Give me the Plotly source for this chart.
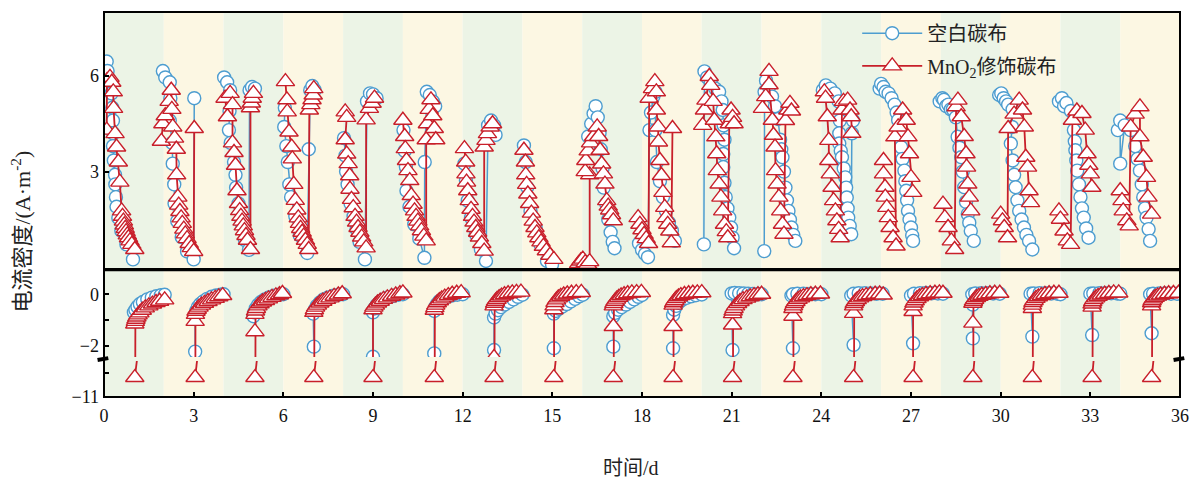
import plotly.graph_objects as go

# ---------------- data (time in days, current density in A/m2) ----------------
# Upper panel (discharge), None separates cycles
blue_top = [
    (0.09,6.45),(0.12,6.15),(0.2,5.85),(0.25,5.45),(0.28,5.0),(0.3,4.6),(0.31,4.2),(0.3,3.8),(0.33,3.35),(0.37,2.9),
    (0.38,2.6),(0.4,2.2),(0.42,1.9),(0.48,1.55),(0.58,1.15),(0.75,0.72),(0.97,0.25), None,
    (1.97,6.15),(2.05,5.95),(2.2,5.8),(2.22,5.3),(2.2,4.6),(2.28,3.9),(2.3,3.25),(2.35,2.6),(2.36,2.0),(2.45,1.45),
    (2.6,0.95),(2.78,0.5),(3.0,0.25),(3.02,5.3), None,
    (4.02,5.95),(4.12,5.8),(4.22,5.55),(4.2,4.9),(4.18,4.3),(4.24,3.9),(4.35,3.3),(4.4,2.9),(4.42,2.5),(4.5,2.0),
    (4.6,1.4),(4.72,0.85),(4.85,0.55),(4.87,5.55),(4.95,5.65),(5.05,5.6), None,
    (6.05,5.0),(6.03,4.4),(6.1,3.8),(6.15,3.3),(6.2,2.6),(6.26,2.2),(6.4,1.6),(6.55,1.0),(6.8,0.45),(6.85,3.7),
    (6.9,5.55),(6.97,5.68),(7.05,5.55), None,
    (8.03,4.05),(8.08,3.5),(8.1,3.0),(8.15,2.6),(8.25,2.0),(8.35,1.6),(8.45,1.2),(8.55,0.8),(8.73,0.25),(8.8,5.2),
    (8.9,5.45),(9.0,5.42),(9.12,5.3), None,
    (10.02,4.3),(10.06,3.65),(10.1,3.15),(10.12,2.4),(10.22,1.9),(10.38,1.35),(10.55,0.9),(10.72,0.3),(10.73,3.3),
    (10.8,5.5),(10.9,5.4),(11.0,5.2),(11.08,5.05), None,
    (12.06,3.25),(12.11,2.72),(12.17,2.09),(12.28,1.56),(12.44,1.04),(12.61,0.56),(12.78,0.2),(12.85,4.45),
    (12.95,4.6),(13.05,4.45),(13.1,4.15), None,
    (14.05,3.82),(14.11,3.3),(14.16,2.51),(14.27,1.77),(14.44,1.25),(14.6,0.72),(14.82,0.2),(14.99,0.09), None,
    (16.2,4.1),(16.3,4.5),(16.38,4.82),(16.45,5.05),(16.52,4.7),(16.58,4.2),(16.62,3.7),(16.68,3.1),(16.72,2.5),
    (16.8,2.0),(16.87,1.5),(16.95,1.1),(17.02,0.8),(17.08,0.6), None,
    (17.9,0.75),(18.0,0.55),(18.1,0.42),(18.2,0.32),(18.25,4.3),(18.3,4.85),(18.38,5.35),(18.45,5.5),(18.45,4.3),
    (18.5,3.3),(18.6,2.7),(18.7,2.2),(18.8,1.77),(18.9,1.4),(19.0,1.15),(19.1,0.83), None,
    (20.07,0.72),(20.09,6.14),(20.18,5.95),(20.3,5.8),(20.45,5.6),(20.58,5.5),(20.66,5.2),(20.7,4.93),(20.73,4.45),
    (20.76,4.0),(20.72,3.55),(20.72,3.14),(20.76,2.65),(20.8,2.2),(20.86,1.85),(20.92,1.56),(20.98,1.25),(21.03,0.93),(21.08,0.6), None,
    (22.09,0.51),(22.1,5.5),(22.15,5.85),(22.25,5.65),(22.35,5.35),(22.45,5.05),(22.55,4.65),(22.62,4.0),(22.66,3.7),
    (22.7,3.45),(22.75,3.0),(22.8,2.5),(22.85,2.1),(22.9,1.77),(22.95,1.5),(23.0,1.25),(23.06,1.02),(23.13,0.83), None,
    (24.05,5.55),(24.15,5.7),(24.3,5.6),(24.45,5.45),(24.58,5.2),(24.62,4.6),(24.6,4.2),(24.6,3.88),(24.65,3.65),
    (24.69,3.45),(24.75,3.1),(24.8,2.82),(24.83,2.5),(24.85,2.19),(24.88,1.85),(24.9,1.56),(24.95,1.3),(25.0,1.04),
    (25.02,4.2),(25.06,4.6), None,
    (25.95,5.6),(26.0,5.75),(26.08,5.65),(26.15,5.5),(26.25,5.45),(26.35,5.3),(26.45,5.1),(26.52,4.85),(26.57,4.61),
    (26.62,4.2),(26.67,3.77),(26.72,3.4),(26.78,3.03),(26.81,2.7),(26.84,2.4),(26.87,2.1),(26.9,1.77),(26.95,1.5),
    (27.0,1.25),(27.04,1.0),(27.07,0.83), None,
    (27.96,5.2),(28.05,5.3),(28.1,5.25),(28.18,5.05),(28.25,5.1),(28.33,4.95),(28.4,4.95),(28.5,4.7),(28.56,4.09),
    (28.62,3.75),(28.68,3.45),(28.73,3.0),(28.78,2.51),(28.84,2.05),(28.9,1.67),(28.95,1.4),(29.0,1.14),(29.1,0.83), None,
    (29.95,5.4),(30.02,5.45),(30.1,5.3),(30.18,5.2),(30.25,5.1),(30.4,4.95),(30.38,4.4),(30.34,3.88),(30.4,3.35),
    (30.45,2.9),(30.5,2.51),(30.56,2.1),(30.62,1.77),(30.7,1.5),(30.78,1.25),(30.86,1.02),(30.95,0.83),(31.06,0.56), None,
    (31.95,5.2),(32.05,5.3),(32.12,5.05),(32.2,5.15),(32.35,4.9),(32.45,4.3),(32.48,3.95),(32.5,3.67),(32.53,3.35),
    (32.56,3.03),(32.62,2.6),(32.67,2.2),(32.72,1.85),(32.78,1.56),(32.86,1.22),(32.94,0.93), None,
    (33.92,4.3),(34.0,4.6),(34.0,3.25),(34.15,4.45),(34.35,4.3),(34.5,3.8),(34.58,3.4),(34.66,3.03),(34.72,2.6),
    (34.77,2.2),(34.83,1.85),(34.88,1.56),(34.95,1.2),(35.0,0.83),
]

red_top = [
    (0.09,4.3),(0.1,5.85),(0.2,5.95),(0.26,5.8),(0.31,5.5),(0.32,4.98),(0.37,4.19),(0.42,3.77),(0.48,3.3),(0.53,2.67),
    (0.59,1.77),(0.62,1.6),(0.65,1.45),(0.68,1.33),(0.71,1.22),(0.74,1.12),(0.78,1.02),(0.82,0.93),(0.87,0.83),
    (0.93,0.72),(1.03,0.56), None,
    (1.92,3.95),(1.97,4.5),(2.05,4.75),(2.18,5.2),(2.25,5.55),(2.27,4.95),(2.3,4.4),(2.36,4.05),(2.42,3.7),(2.43,2.9),
    (2.47,2.2),(2.5,1.95),(2.54,1.75),(2.58,1.55),(2.62,1.38),(2.67,1.2),(2.72,1.05),(2.78,0.9),(2.85,0.75),
    (2.92,0.62),(3.0,0.5),(3.02,4.35), None,
    (4.05,5.3),(4.13,4.72),(4.22,5.45),(4.3,5.1),(4.3,3.9),(4.35,3.6),(4.4,3.2),(4.45,2.4),(4.5,2.0),(4.54,1.78),
    (4.58,1.6),(4.62,1.45),(4.66,1.3),(4.7,1.15),(4.75,1.0),(4.8,0.85),(4.9,0.56),(4.9,5.0),(4.93,5.15),(4.96,5.3),
    (5.0,5.45), None,
    (6.07,5.82),(6.12,5.25),(6.13,4.87),(6.19,4.24),(6.28,3.77),(6.3,3.4),(6.35,2.6),(6.4,2.1),(6.45,1.8),(6.5,1.55),
    (6.54,1.38),(6.58,1.22),(6.63,1.1),(6.68,0.98),(6.74,0.85),(6.8,0.72),(6.85,0.56),(6.87,4.93),(6.92,5.1),
    (6.96,5.25),(7.0,5.4),(7.02,5.6), None,
    (8.07,4.87),(8.12,4.7),(8.07,4.0),(8.12,3.55),(8.17,3.25),(8.22,2.87),(8.23,2.45),(8.28,2.13),(8.34,1.87),
    (8.4,1.6),(8.45,1.42),(8.5,1.25),(8.56,1.1),(8.62,0.95),(8.69,0.8),(8.77,0.61),(8.77,4.62),(8.88,4.98),
    (8.97,5.14),(9.05,5.3), None,
    (10.0,4.61),(10.06,4.1),(10.08,3.72),(10.12,3.35),(10.17,3.03),(10.23,2.72),(10.28,2.25),(10.34,1.98),
    (10.39,1.77),(10.44,1.6),(10.5,1.45),(10.56,1.3),(10.62,1.15),(10.7,0.98),(10.78,0.83),(10.78,4.0),(10.82,4.5),
    (10.88,4.95),(10.94,5.25),(11.0,4.75),(11.05,4.35),(11.1,4.0), None,
    (12.06,3.72),(12.1,3.3),(12.11,2.93),(12.13,2.67),(12.17,2.4),(12.22,2.09),(12.28,1.82),(12.33,1.6),(12.38,1.42),
    (12.44,1.25),(12.5,1.1),(12.56,0.95),(12.64,0.75),(12.72,0.51),(12.72,3.77),(12.78,3.98),(12.83,4.19),
    (12.92,4.4),(13.0,4.5), None,
    (14.05,3.67),(14.1,3.3),(14.11,2.9),(14.14,2.6),(14.18,2.3),(14.24,2.0),(14.3,1.7),(14.36,1.45),(14.42,1.25),
    (14.48,1.08),(14.55,0.93),(14.62,0.8),(14.7,0.66),(14.8,0.52),(14.92,0.38),(15.05,0.25), None,
    (15.88,0.12),(15.95,0.2),(16.02,0.26),(16.1,0.15),(16.18,0.1),(16.25,0.18),(16.25,2.9),(16.1,3.0),(16.12,3.35),
    (16.2,3.65),(16.28,3.9),(16.38,4.1),(16.5,4.4),(16.55,4.1),(16.6,3.67),(16.65,3.24),(16.71,2.93),(16.76,2.61),
    (16.82,2.09),(16.87,1.92),(16.92,1.8),(16.98,1.65),(17.04,1.46), None,
    (17.87,1.56),(17.93,1.35),(18.0,1.18),(18.07,1.03),(18.14,0.9),(18.22,0.75),(18.24,5.3),(18.35,5.6),(18.43,5.82),
    (18.48,5.5),(18.48,4.93),(18.54,4.4),(18.55,3.93),(18.6,3.35),(18.65,2.88),(18.7,2.35),(18.76,1.88),(18.8,1.56),
    (18.86,1.35),(18.93,1.14),(18.98,0.77),(19.02,4.35), None,
    (20.03,4.45),(20.09,4.93),(20.14,5.24),(20.25,5.98),(20.3,5.7),(20.38,5.2),(20.42,4.61),(20.47,4.09),(20.5,3.56),
    (20.52,3.03),(20.58,2.61),(20.64,2.2),(20.7,1.77),(20.76,1.35),(20.82,1.12),(20.87,0.93),(20.92,4.5),(20.98,4.93),
    (21.03,4.7),(21.08,4.5), None,
    (22.03,4.98),(22.14,5.35),(22.25,6.14),(22.25,5.72),(22.36,4.61),(22.4,4.14),(22.45,3.77),(22.47,3.03),
    (22.52,2.61),(22.58,2.2),(22.64,1.77),(22.7,1.35),(22.75,1.04),(22.8,4.6),(22.88,4.93),(22.95,5.14),(23.0,4.9), None,
    (24.1,5.5),(24.14,5.3),(24.2,4.72),(24.25,3.98),(24.25,3.35),(24.3,2.93),(24.36,2.51),(24.41,2.09),(24.47,1.77),
    (24.52,1.46),(24.58,1.19),(24.63,0.93),(24.69,4.93),(24.74,5.2),(24.88,5.24),(24.96,4.93),(25.0,4.72),(25.02,4.2), None,
    (26.08,3.35),(26.08,2.93),(26.13,2.51),(26.14,2.2),(26.19,1.88),(26.24,1.56),(26.3,1.25),(26.4,0.93),(26.5,0.67),
    (26.46,4.09),(26.57,4.4),(26.72,4.93),(26.84,4.61),(26.9,4.09),(26.95,3.56),(27.0,2.82),(27.06,2.35), None,
    (28.07,1.98),(28.13,1.56),(28.24,1.25),(28.35,0.83),(28.46,0.56),(28.51,5.03),(28.57,5.24),(28.68,4.72),
    (28.78,4.1),(28.84,3.56),(28.86,3.14),(28.9,2.61),(28.95,2.2),(29.0,1.77), None,
    (30.0,1.67),(30.06,1.46),(30.12,1.25),(30.23,0.93),(30.25,4.35),(30.45,4.8),(30.62,5.24),(30.73,4.93),(30.79,4.4),
    (30.84,3.45),(30.9,3.14),(30.95,2.4),(31.0,2.03), None,
    (31.95,1.77),(32.0,1.51),(32.12,1.14),(32.23,0.83),(32.34,0.72),(32.4,4.61),(32.55,4.9),(32.72,4.82),(32.83,4.3),
    (32.89,3.56),(32.95,3.2),(33.0,2.93),(33.05,2.51), None,
    (34.0,2.4),(34.06,2.09),(34.1,1.77),(34.22,1.46),(34.3,1.3),(34.35,4.4),(34.5,4.8),(34.66,5.03),(34.66,4.09),
    (34.77,3.45),(34.88,2.82),(34.93,2.2),(35.05,1.67),
]

# Lower panel (charging, negative current; broken axis)
blue_bottom = [
    (1.0,-0.7),(1.05,-0.6),(1.12,-0.48),(1.2,-0.38),(1.3,-0.3),(1.45,-0.2),(1.6,-0.13),(1.75,-0.08),(1.9,-0.04),(2.03,-0.02), None,
    (3.05,-2.22),(3.05,-0.8),(3.08,-0.65),(3.14,-0.5),(3.22,-0.38),(3.32,-0.28),(3.45,-0.18),(3.6,-0.1),(3.75,-0.05),(3.9,-0.02),(4.0,0.0), None,
    (5.0,-0.85),(5.03,-0.7),(5.08,-0.55),(5.15,-0.42),(5.25,-0.3),(5.38,-0.2),(5.52,-0.12),(5.68,-0.06),(5.85,-0.02),(6.0,0.0), None,
    (7.02,-2.03),(7.0,-0.75),(7.05,-0.6),(7.12,-0.45),(7.22,-0.32),(7.35,-0.2),(7.5,-0.12),(7.68,-0.06),(7.85,-0.02),(8.0,0.0), None,
    (9.0,-2.42),(9.0,-0.7),(9.05,-0.55),(9.12,-0.42),(9.22,-0.3),(9.35,-0.2),(9.5,-0.12),(9.68,-0.06),(9.85,-0.02),(10.0,0.0), None,
    (11.05,-2.29),(11.05,-0.65),(11.08,-0.5),(11.14,-0.38),(11.22,-0.27),(11.34,-0.17),(11.48,-0.1),(11.65,-0.05),(11.82,-0.02),(12.0,0.0), None,
    (13.05,-2.16),(13.05,-0.9),(13.1,-0.75),(13.18,-0.62),(13.28,-0.5),(13.4,-0.4),(13.55,-0.3),(13.7,-0.2),(13.85,-0.1),(14.0,-0.02), None,
    (15.05,-2.09),(15.05,-0.75),(15.12,-0.65),(15.22,-0.56),(15.34,-0.47),(15.48,-0.38),(15.62,-0.28),(15.76,-0.18),(15.9,-0.08),(16.02,-0.02), None,
    (17.04,-2.03),(17.04,-0.85),(17.1,-0.72),(17.2,-0.6),(17.32,-0.5),(17.46,-0.4),(17.6,-0.3),(17.74,-0.2),(17.88,-0.1),(18.0,-0.03), None,
    (19.04,-2.09),(19.04,-0.8),(19.08,-0.6),(19.14,-0.45),(19.22,-0.33),(19.34,-0.22),(19.48,-0.14),(19.64,-0.08),(19.8,-0.04),(20.0,-0.01), None,
    (21.03,-2.16),(21.0,0.03),(21.1,0.05),(21.25,0.04),(21.4,0.03),(21.55,0.02),(21.7,0.01),(21.85,0.0),(22.0,0.0), None,
    (23.05,-2.09),(23.0,-0.05),(23.05,0.0),(23.2,0.02),(23.4,0.02),(23.6,0.01),(23.8,0.0),(24.0,0.0), None,
    (25.08,-1.96),(25.0,-0.05),(25.08,0.02),(25.25,0.04),(25.45,0.04),(25.65,0.03),(25.85,0.02),(26.05,0.02), None,
    (27.07,-1.9),(27.0,-0.05),(27.1,0.02),(27.3,0.04),(27.5,0.05),(27.7,0.04),(27.9,0.03),(28.07,0.02), None,
    (29.07,-1.71),(29.07,-0.4),(29.05,0.0),(29.15,0.03),(29.35,0.04),(29.55,0.04),(29.75,0.03),(29.97,0.02), None,
    (31.06,-1.64),(31.0,0.02),(31.1,0.03),(31.3,0.04),(31.5,0.04),(31.7,0.03),(31.9,0.02),(32.0,0.0), None,
    (33.06,-1.58),(33.0,0.02),(33.1,0.03),(33.3,0.04),(33.5,0.04),(33.7,0.04),(33.9,0.03),(34.0,0.02), None,
    (35.05,-1.51),(35.0,0.0),(35.1,0.02),(35.3,0.03),(35.5,0.03),(35.7,0.02),(35.9,0.02),
]

red_bottom = [
    (1.03,-10.2),(1.03,-1.15),(1.05,-1.05),(1.07,-0.97),(1.1,-0.88),(1.14,-0.8),(1.2,-0.72),(1.28,-0.62),(1.38,-0.53),
    (1.5,-0.45),(1.62,-0.38),(1.74,-0.32),(1.86,-0.27),(2.03,-0.22), None,
    (3.05,-10.2),(3.05,-1.05),(3.06,-0.78),(3.08,-0.66),(3.12,-0.58),(3.18,-0.5),(3.26,-0.42),(3.36,-0.35),(3.48,-0.28),
    (3.6,-0.22),(3.72,-0.16),(3.84,-0.1),(3.97,-0.05), None,
    (5.05,-10.2),(5.05,-1.45),(5.05,-0.78),(5.07,-0.65),(5.1,-0.55),(5.15,-0.45),(5.22,-0.37),(5.3,-0.3),(5.4,-0.24),
    (5.5,-0.18),(5.62,-0.12),(5.75,-0.06),(5.87,-0.02),(5.97,0.03), None,
    (7.02,-10.2),(7.02,-0.7),(7.04,-0.6),(7.08,-0.5),(7.14,-0.42),(7.22,-0.34),(7.32,-0.27),(7.44,-0.2),(7.56,-0.14),
    (7.7,-0.08),(7.84,-0.03),(7.97,0.02), None,
    (9.0,-10.2),(9.0,-0.6),(9.03,-0.5),(9.08,-0.42),(9.15,-0.34),(9.24,-0.27),(9.35,-0.2),(9.48,-0.14),(9.62,-0.08),
    (9.76,-0.03),(9.9,0.02),(10.0,0.05), None,
    (11.05,-10.2),(11.05,-0.62),(11.07,-0.52),(11.1,-0.42),(11.15,-0.33),(11.22,-0.25),(11.3,-0.18),(11.4,-0.11),
    (11.52,-0.05),(11.65,0.0),(11.8,0.04),(11.95,0.06), None,
    (13.05,-10.2),(13.05,-2.45),(13.05,-0.45),(13.07,-0.35),(13.1,-0.27),(13.15,-0.2),(13.22,-0.13),(13.3,-0.07),
    (13.4,-0.02),(13.52,0.02),(13.66,0.05),(13.8,0.07),(13.95,0.08), None,
    (15.05,-10.2),(15.05,-0.6),(15.06,-0.45),(15.09,-0.32),(15.14,-0.22),(15.2,-0.14),(15.28,-0.08),(15.38,-0.03),
    (15.5,0.01),(15.64,0.04),(15.8,0.06),(15.97,0.07), None,
    (17.04,-10.2),(17.04,-1.25),(17.04,-0.45),(17.06,-0.36),(17.1,-0.27),(17.15,-0.19),(17.22,-0.12),(17.3,-0.06),
    (17.4,-0.02),(17.52,0.02),(17.66,0.05),(17.82,0.06),(17.98,0.07), None,
    (19.04,-10.2),(19.04,-1.25),(19.04,-0.42),(19.06,-0.33),(19.1,-0.25),(19.15,-0.17),(19.22,-0.1),(19.3,-0.05),
    (19.42,-0.01),(19.56,0.02),(19.7,0.04),(19.85,0.05),(20.0,0.06), None,
    (21.03,-10.2),(21.03,-1.19),(21.03,-0.75),(21.05,-0.65),(21.08,-0.55),(21.13,-0.45),(21.2,-0.36),(21.28,-0.28),
    (21.38,-0.21),(21.5,-0.15),(21.62,-0.1),(21.75,-0.05),(21.88,-0.02),(22.0,0.0), None,
    (23.05,-10.2),(23.05,-0.85),(23.05,-0.55),(23.07,-0.45),(23.1,-0.36),(23.15,-0.28),(23.22,-0.2),(23.3,-0.14),
    (23.4,-0.09),(23.52,-0.05),(23.65,-0.02),(23.8,0.0),(23.97,0.01), None,
    (25.08,-10.2),(25.08,-0.74),(25.08,-0.45),(25.1,-0.36),(25.14,-0.28),(25.2,-0.21),(25.28,-0.14),(25.38,-0.09),
    (25.5,-0.05),(25.64,-0.02),(25.8,0.0),(25.95,0.01),(26.07,-0.03), None,
    (27.07,-10.2),(27.07,-0.67),(27.07,-0.45),(27.1,-0.34),(27.14,-0.25),(27.2,-0.17),(27.28,-0.1),(27.38,-0.05),
    (27.5,-0.01),(27.64,0.02),(27.8,0.04),(27.95,0.05),(28.07,0.04), None,
    (29.07,-10.2),(29.07,-1.12),(29.07,-0.35),(29.09,-0.27),(29.13,-0.2),(29.19,-0.13),(29.27,-0.08),(29.37,-0.04),
    (29.5,-0.01),(29.64,0.02),(29.8,0.04),(29.97,0.04), None,
    (31.06,-10.2),(31.06,-0.55),(31.06,-0.42),(31.08,-0.32),(31.12,-0.24),(31.18,-0.16),(31.26,-0.1),(31.36,-0.05),
    (31.48,-0.01),(31.62,0.02),(31.78,0.04),(31.95,0.04), None,
    (33.06,-10.2),(33.06,-0.5),(33.06,-0.38),(33.08,-0.29),(33.12,-0.21),(33.18,-0.14),(33.26,-0.08),(33.36,-0.03),
    (33.48,0.0),(33.62,0.03),(33.78,0.05),(33.95,0.05), None,
    (35.05,-10.2),(35.05,-0.45),(35.05,-0.33),(35.07,-0.25),(35.11,-0.18),(35.17,-0.12),(35.25,-0.07),(35.35,-0.03),
    (35.48,0.0),(35.62,0.02),(35.78,0.03),(35.95,0.04),
]

x_ticks = list(range(0, 37, 3))
top_ticks = [3, 6]
mid_ticks = [-2, 0]
mid_labels = ["\u22122", "0"]
mid_minor = [-1]
low_ticks = [-11]
low_labels = ["\u221211"]
low_minor = [-10]
stripe_edges = list(range(0, 37, 2))   # alternating 2-day background bands
series_names = ["空白碳布", "MnO<sub>2</sub>修饰碳布"]

# ---------------- figure ----------------
BLUE = "#4d9dd0"
RED = "#c81f2a"
GREEN_BG = "#ecf4e6"
YELLOW_BG = "#fcf7e3"
SERIF = "Liberation Serif, Times New Roman, Noto Sans CJK SC, serif"


def split(pts):
    xs, ys = [], []
    for p in pts:
        if p is None:
            xs.append(None)
            ys.append(None)
        else:
            xs.append(p[0])
            ys.append(p[1])
    return xs, ys


mk_blue = dict(symbol="circle", size=13, color="white", line=dict(color=BLUE, width=1.4))
mk_red = dict(symbol="triangle-up", size=16, color="white", line=dict(color=RED, width=1.4))
ln_blue = dict(color=BLUE, width=1.5)
ln_red = dict(color=RED, width=1.8)

fig = go.Figure()
bx, by = split(blue_top)
rx, ry = split(red_top)
fig.add_trace(go.Scatter(x=bx, y=by, mode="lines+markers", line=ln_blue, marker=mk_blue,
                         name=series_names[0], xaxis="x", yaxis="y", legend="legend"))
fig.add_trace(go.Scatter(x=rx, y=ry, mode="lines+markers", line=ln_red, marker=mk_red,
                         name=series_names[1], xaxis="x", yaxis="y", legend="legend2"))

bbx, bby = split(blue_bottom)
rbx, rby = split(red_bottom)
for xa, ya in (("x2", "y2"), ("x3", "y3")):
    fig.add_trace(go.Scatter(x=bbx, y=bby, mode="lines+markers", line=ln_blue, marker=mk_blue,
                             showlegend=False, xaxis=xa, yaxis=ya))
    fig.add_trace(go.Scatter(x=rbx, y=rby, mode="lines+markers", line=ln_red, marker=mk_red,
                             showlegend=False, xaxis=xa, yaxis=ya))

shapes = []
for i in range(len(stripe_edges) - 1):
    shapes.append(dict(type="rect", xref="x", yref="paper", x0=stripe_edges[i], x1=stripe_edges[i + 1],
                       y0=0, y1=1, fillcolor=GREEN_BG if i % 2 == 0 else YELLOW_BG,
                       line=dict(width=0), layer="below"))
# panel frames
shapes.append(dict(type="rect", xref="paper", yref="paper", x0=0, x1=1, y0=0.3325, y1=1,
                   line=dict(color="black", width=2), layer="above"))
shapes.append(dict(type="rect", xref="paper", yref="paper", x0=0, x1=1, y0=0, y1=0.3295,
                   line=dict(color="black", width=2), layer="above"))
# axis break marks
for xc in (0.0, 1.0):
    shapes.append(dict(type="line", xref="paper", yref="paper", x0=xc - 0.006, x1=xc + 0.004,
                       y0=0.096, y1=0.101, line=dict(color="black", width=4), layer="above"))

tickfont = dict(family=SERIF, size=18, color="#111")
common_y = dict(showgrid=False, zeroline=False, showline=False, ticks="inside", ticklen=5,
                tickwidth=1.5, tickcolor="black", tickfont=tickfont, ticklabelstandoff=4)
common_x = dict(range=[0, 36], showgrid=False, zeroline=False, showline=False)
minor_style = dict(ticks="inside", ticklen=5, tickwidth=1.5, tickcolor="black", showgrid=False)

fig.update_layout(
    width=1199, height=482,
    margin=dict(l=104, r=10, t=12, b=85),
    paper_bgcolor="white", plot_bgcolor="rgba(0,0,0,0)",
    shapes=shapes,
    xaxis=dict(**common_x, domain=[0, 1], anchor="y", showticklabels=False, ticks=""),
    xaxis2=dict(**common_x, domain=[0, 1], anchor="y2", matches="x", showticklabels=False, ticks=""),
    xaxis3=dict(**common_x, domain=[0, 1], anchor="y3", matches="x", tickvals=x_ticks,
                ticks="inside", ticklen=5, tickwidth=1.5, tickcolor="black", tickfont=tickfont,
                ticklabelstandoff=6),
    yaxis=dict(**common_y, domain=[0.3325, 1], range=[-0.05, 8.0], tickvals=top_ticks, anchor="x"),
    yaxis2=dict(**common_y, domain=[0.1039, 0.3273], range=[-2.43, 0.90], tickvals=mid_ticks,
                ticktext=mid_labels, anchor="x2",
                minor=dict(**minor_style, tickmode="array", tickvals=mid_minor)),
    yaxis3=dict(**common_y, domain=[0, 0.0935], range=[-11.0, -9.52], tickvals=low_ticks,
                ticktext=low_labels, anchor="x3",
                minor=dict(**minor_style, tickmode="array", tickvals=low_minor)),
    legend=dict(x=0.70, y=0.945, xanchor="left", yanchor="middle", bgcolor="rgba(0,0,0,0)",
                font=dict(family=SERIF, size=20, color="#222"), itemwidth=60),
    legend2=dict(x=0.70, y=0.860, xanchor="left", yanchor="middle", bgcolor="rgba(0,0,0,0)",
                 font=dict(family=SERIF, size=20, color="#222"), itemwidth=60),
    annotations=[
        dict(text="电流密度/(A·m<sup>-2</sup>)", xref="paper", yref="paper", x=-0.077, y=0.43,
             textangle=-90, showarrow=False, font=dict(family=SERIF, size=22, color="#222"),
             xanchor="center", yanchor="middle"),
        dict(text="时间/d", xref="paper", yref="paper", x=0.49, y=-0.185, showarrow=False,
             font=dict(family=SERIF, size=20, color="#222"), xanchor="center", yanchor="middle"),
    ],
)

fig.write_html("out.html")
